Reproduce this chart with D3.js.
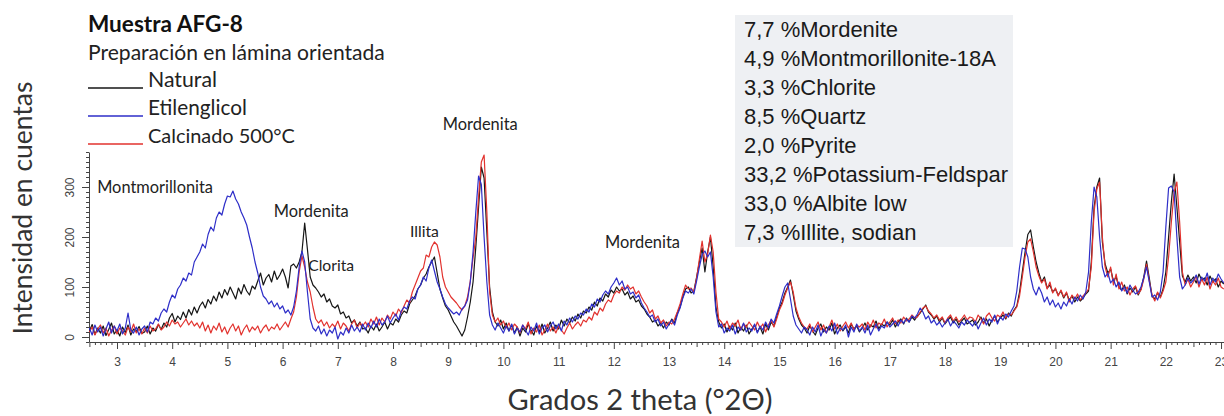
<!DOCTYPE html>
<html>
<head>
<meta charset="utf-8">
<script src="https://cdn.jsdelivr.net/npm/d3@7"></script>
<style>
  body { margin: 0; background: #fff; }
  svg { display: block; }
</style>
</head>
<body>
<div id="chart"></div>
<script>
// sampling of the patterns: first angle and step, in degrees 2 theta
const twoThetaStart = 2.5;
const twoThetaStep = 0.05;

// counts, one row per degree (n.5 .. n+1.45)
const natural = [
  12, 25, 5, 18, 8, 22, 3, 15, 28, 6, 14, 2, 20, 9, 24, 4, 16, 11, 21, 7,
  10, 22, 6, 18, 12, 25, 15, 28, 20, 38, 47, 30, 42, 35, 50, 38, 55, 44, 60, 48,
  62, 70, 58, 75, 66, 82, 72, 90, 78, 95, 84, 100, 88, 76, 98, 86, 105, 92, 84, 102,
  96, 112, 128, 104, 118, 125, 110, 132, 115, 124, 136, 120, 98, 142, 146, 138, 150, 170, 228, 175,
  120, 104, 98, 90, 80, 86, 70, 76, 62, 58, 64, 46, 50, 38, 42, 28, 34, 22, 30, 16,
  18, 8, 22, 14, 26, 12, 20, 30, 16, 28, 24, 36, 30, 44, 52, 48, 66, 74, 82, 96,
  104, 118, 126, 140, 150, 160, 128, 96, 78, 62, 54, 42, 30, 22, 12, 2, 14, 40, 70, 110,
  180, 260, 340, 318, 210, 100, 50, 30, 22, 34, 16, 28, 12, 24, 8, 20, 2, 18, 10, 26,
  14, 4, 22, 10, 26, 8, 18, 30, 12, 24, 16, 34, 22, 36, 28, 40, 32, 46, 38, 52,
  48, 60, 54, 70, 62, 78, 72, 86, 80, 94, 88, 100, 92, 96, 84, 90, 76, 82, 70, 74,
  62, 56, 46, 40, 30, 34, 22, 28, 18, 30, 24, 36, 28, 48, 60, 80, 96, 100, 88, 92,
  120, 150, 178, 130, 170, 200, 140, 60, 30, 18, 26, 10, 22, 14, 28, 8, 20, 12, 24, 6,
  16, 24, 10, 20, 6, 26, 14, 30, 22, 40, 58, 70, 88, 100, 114, 84, 52, 36, 24, 18,
  8, 22, 12, 4, 18, 26, 10, 20, 14, 28, 6, 18, 24, 12, 20, 8, 26, 16, 22, 10,
  18, 28, 14, 24, 20, 32, 16, 26, 22, 30, 24, 34, 20, 30, 36, 26, 38, 30, 40, 34,
  42, 48, 56, 64, 50, 44, 36, 42, 30, 38, 26, 34, 40, 28, 36, 24, 32, 38, 26, 30,
  34, 24, 30, 40, 28, 36, 22, 34, 42, 30, 38, 44, 36, 48, 42, 54, 62, 90, 130, 170,
  205, 214, 180, 150, 128, 110, 120, 98, 104, 90, 96, 84, 92, 78, 88, 74, 82, 70, 80, 72,
  78, 86, 92, 150, 260, 300, 318, 190, 146, 128, 136, 112, 120, 100, 94, 104, 86, 98, 90, 100,
  84, 96, 120, 152, 118, 82, 76, 88, 80, 96, 130, 200, 270, 326, 260, 190, 122, 110, 124, 112,
  120, 108, 126, 114, 118, 104, 122, 110, 116, 100, 112, 106
];

const etilenglicol = [
  18, 4, 24, 10, 20, 2, 16, 30, 8, 22, 12, 26, 6, 18, 48, 14, 8, 20, 4, 16,
  22, 10, 30, 26, 38, 32, 48, 56, 50, 70, 84, 78, 96, 104, 118, 112, 128, 124, 150, 160,
  170, 186, 178, 205, 220, 212, 238, 250, 244, 266, 282, 280, 292, 276, 266, 250, 238, 224, 200, 178,
  150, 128, 100, 82, 76, 66, 72, 60, 68, 56, 62, 48, 54, 44, 60, 92, 140, 172, 150, 90,
  36, 18, 12, 22, 6, 16, 2, 14, 8, 20, -4, 10, 4, 18, 8, 24, 12, 20, 10, 26,
  14, 28, 18, 32, 20, 36, 24, 30, 42, 28, 38, 46, 34, 52, 60, 56, 72, 80, 76, 96,
  104, 120, 112, 138, 154, 132, 110, 96, 80, 66, 58, 52, 46, 50, 44, 56, 62, 74, 110, 170,
  250, 322, 305, 200, 110, 44, 24, 14, 28, 18, 8, 22, 12, 26, 6, 18, 10, 24, 14, 4,
  20, 12, 28, 6, 18, 24, 10, 22, 30, 16, 26, 12, 32, 24, 38, 30, 42, 36, 48, 44,
  56, 50, 66, 60, 76, 70, 84, 92, 86, 100, 108, 118, 104, 112, 96, 100, 86, 90, 78, 84,
  68, 58, 50, 40, 44, 30, 36, 22, 30, 16, 26, 34, 24, 44, 58, 78, 92, 88, 96, 86,
  112, 140, 165, 172, 160, 170, 120, 50, 20, 26, 8, 18, 12, 24, 6, 20, 14, 28, 10, 18,
  12, 26, 8, 22, 14, 30, 18, 36, 28, 46, 62, 82, 100, 108, 76, 42, 24, 16, 8, 20,
  14, 4, 20, 10, 24, 2, 16, 8, 22, 12, 28, 6, 18, 14, 24, 0, 20, 10, 26, 12,
  20, 8, 24, 4, 16, 26, 12, 22, 18, 30, 20, 26, 32, 22, 34, 28, 36, 30, 42, 38,
  46, 58, 50, 36, 42, 28, 34, 24, 30, 20, 28, 36, 22, 32, 26, 18, 30, 24, 34, 28,
  22, 32, 16, 28, 38, 24, 36, 30, 44, 26, 40, 34, 46, 40, 52, 62, 92, 140, 178, 176,
  160, 120, 96, 84, 100, 88, 70, 80, 64, 74, 60, 68, 56, 70, 62, 76, 66, 80, 72, 84,
  76, 90, 130, 230, 300, 280, 200, 140, 120, 128, 108, 116, 100, 110, 92, 100, 88, 104, 94, 86,
  90, 100, 118, 140, 110, 80, 84, 74, 90, 130, 220, 298, 302, 290, 200, 120, 96, 104, 118, 108,
  114, 124, 106, 120, 112, 128, 104, 118, 110, 126, 116, 108
];

const calcinado = [
  10, 20, 4, 16, 24, 8, 18, 2, 14, 22, 6, 18, 12, 4, 20, 10, 26, 8, 16, 6,
  18, 8, 22, 12, 16, 26, 14, 20, 30, 22, 34, 26, 30, 20, 28, 36, 24, 32, 22, 28,
  18, 30, 12, 24, 8, 22, 14, 28, 10, 20, 6, 18, 26, 12, 22, 4, 16, 24, 10, 20,
  14, 22, 8, 18, 24, 12, 20, 16, 26, 14, 22, 30, 20, 36, 50, 80, 130, 162, 140, 110,
  90, 60, 36, 28, 34, 22, 30, 18, 26, 20, 32, 16, 28, 22, 12, 26, 34, 18, 28, 22,
  30, 20, 36, 26, 40, 24, 38, 30, 44, 36, 50, 42, 56, 48, 62, 74, 68, 90, 104, 118,
  132, 138, 164, 160, 180, 190, 184, 160, 120, 100, 90, 80, 74, 68, 60, 54, 62, 80, 112, 158,
  200, 280, 350, 364, 250, 90, 44, 30, 38, 24, 32, 18, 28, 14, 26, 20, 8, 24, 16, 30,
  6, 18, 10, 24, 4, 14, 26, 12, 20, 8, 22, 14, 6, 18, 28, 16, 24, 30, 22, 34,
  30, 40, 34, 50, 44, 58, 52, 66, 74, 70, 84, 92, 88, 100, 94, 104, 96, 100, 86, 92,
  80, 70, 62, 48, 54, 36, 42, 28, 34, 22, 30, 26, 36, 50, 66, 86, 104, 96, 98, 90,
  118, 156, 192, 150, 166, 204, 170, 90, 36, 30, 20, 32, 16, 28, 22, 34, 14, 26, 20, 30,
  22, 14, 30, 18, 26, 10, 24, 34, 20, 36, 54, 66, 84, 98, 110, 90, 58, 40, 28, 20,
  16, 26, 10, 20, 30, 14, 24, 8, 20, 34, 16, 26, 12, 22, 30, 18, 28, 14, 24, 20,
  26, 14, 30, 20, 34, 18, 28, 24, 36, 20, 30, 38, 26, 34, 28, 40, 32, 36, 44, 38,
  40, 50, 58, 62, 52, 46, 38, 44, 34, 40, 28, 38, 44, 32, 40, 30, 36, 44, 34, 40,
  38, 30, 44, 36, 26, 42, 48, 38, 32, 44, 40, 50, 38, 46, 44, 52, 60, 82, 120, 160,
  190, 196, 170, 140, 122, 108, 116, 96, 110, 88, 98, 82, 94, 80, 90, 70, 84, 76, 86, 74,
  82, 88, 96, 140, 250, 296, 310, 200, 140, 120, 140, 104, 126, 96, 110, 92, 100, 84, 96, 102,
  86, 94, 116, 146, 112, 84, 72, 90, 78, 92, 110, 160, 230, 290, 310, 230, 130, 104, 116, 100,
  110, 122, 100, 116, 104, 120, 96, 112, 104, 118, 100, 96
];

const seriesNames = ["Natural", "Etilenglicol", "Calcinado 500°C"];
const xTicks = [3, 4, 5, 6, 7, 8, 9, 10, 11, 12, 13, 14, 15, 16, 17, 18, 19, 20, 21, 22, 23];
const yTicks = [0, 100, 200, 300];

// semiquantitative result shown in the grey box
const phasePct = ["7,7", "4,9", "3,3", "8,5", "2,0", "33,2", "33,0", "7,3"];
const phaseNames = ["Mordenite", "Montmorillonite-18A", "Chlorite", "Quartz", "Pyrite",
                    "Potassium-Feldspar", "Albite low", "Illite, sodian"];

// peak names written on the pattern
const peakNames = ["Montmorillonita", "Mordenita", "Clorita", "Illita", "Mordenita", "Mordenita"];

const W = 1224, H = 416;
const calibri = "Lato, 'Open Sans', sans-serif";
const arial = "'Liberation Sans', Arial, sans-serif";

const svg = d3.select("#chart").append("svg")
    .attr("width", W).attr("height", H);

const x = d3.scaleLinear().domain([2.5, 23.05]).range([89.4, 1223.8]);
const y = d3.scaleLinear().domain([-10, 370]).range([342, 152]);

// scale font size so the text gets a given width (Calibri is not installed)
function fitText(sel, w) {
    sel.each(function () {
        var el = d3.select(this);
        var fs = parseFloat(el.style("font-size"));
        var cur = this.getComputedTextLength();
        if (cur > 0) el.style("font-size", (fs * w / cur).toFixed(2) + "px");
    });
}

// grey box with the phases
svg.append("rect")
    .attr("x", 735).attr("y", 15).attr("width", 278).attr("height", 232)
    .attr("fill", "#eef0f3");

svg.append("g").selectAll("text")
    .data(phaseNames)
    .join("text")
    .attr("x", 744)
    .attr("y", (d, i) => 37 + i * 29)
    .style("font-family", arial)
    .style("font-size", "22px")
    .attr("fill", "#1a1a1a")
    .text((d, i) => phasePct[i] + " %" + d);

// x axis: major, half and tenth ticks
const gx = svg.append("g").attr("transform", "translate(0,342)");
gx.call(d3.axisBottom(x).tickValues(xTicks).tickSize(7).tickSizeOuter(0).tickPadding(8)
        .tickFormat(d3.format("d")));
gx.append("g").call(d3.axisBottom(x)
        .tickValues(d3.range(25, 231, 10).map(v => v / 10)).tickSize(5).tickFormat(""))
    .select(".domain").remove();
gx.append("g").call(d3.axisBottom(x)
        .tickValues(d3.range(25, 231).filter(v => v % 5 != 0).map(v => v / 10))
        .tickSize(3).tickFormat(""))
    .select(".domain").remove();

// y axis, labels turned
const gy = svg.append("g").attr("transform", "translate(89,0)");
gy.call(d3.axisLeft(y).tickValues(yTicks).tickSize(7).tickSizeOuter(0));
gy.append("g").call(d3.axisLeft(y)
        .tickValues(d3.range(-10, 371, 10).filter(v => v % 100 != 0))
        .tickSize(3).tickFormat(""))
    .select(".domain").remove();
gy.selectAll(".tick text")
    .attr("transform", "rotate(-90)")
    .attr("x", 0).attr("y", -15).attr("dy", 0)
    .attr("text-anchor", "middle");

svg.selectAll(".domain, .tick line").attr("stroke", "#444");
svg.selectAll(".tick text")
    .style("font-family", arial).style("font-size", "12px").attr("fill", "#444");

// the three patterns
const line = d3.line()
    .x((d, i) => x(twoThetaStart + i * twoThetaStep))
    .y(d => y(d));

const series = [
    {vals: natural, color: "#161616"},
    {vals: calcinado, color: "#e2322e"},
    {vals: etilenglicol, color: "#2e2ec8"}
];
svg.append("g").selectAll("path")
    .data(series)
    .join("path")
    .attr("d", d => line(d.vals))
    .attr("fill", "none")
    .attr("stroke", d => d.color)
    .attr("stroke-width", 1.2)
    .attr("stroke-linejoin", "round");

// peak labels (2 theta of centre, count of baseline)
const peakAt = [[3.69, 288], [6.52, 240], [6.88, 132], [8.57, 200], [12.52, 178], [9.58, 414]];
const peakW = [116, 75, 46, 29, 75, 75];
svg.append("g").selectAll("text")
    .data(peakNames)
    .join("text")
    .attr("x", (d, i) => x(peakAt[i][0]))
    .attr("y", (d, i) => y(peakAt[i][1]))
    .attr("text-anchor", "middle")
    .style("font-family", calibri)
    .style("font-size", "14px")
    .attr("fill", "#222")
    .text(d => d)
    .each(function (d, i) { fitText(d3.select(this), peakW[i]); });

// title and legend
svg.append("text")
    .attr("x", 88).attr("y", 32)
    .style("font-family", calibri).style("font-weight", "bold").style("font-size", "20px")
    .attr("fill", "#111")
    .text("Muestra AFG-8")
    .call(fitText, 155);

svg.append("text")
    .attr("x", 88).attr("y", 60)
    .style("font-family", calibri).style("font-size", "19px")
    .attr("fill", "#222")
    .text("Preparación en lámina orientada")
    .call(fitText, 297);

const legW = [69, 99, 147];
const leg = svg.append("g").selectAll("g")
    .data(series.map((s, i) => ({name: seriesNames[i], color: [ "#161616", "#2e2ec8", "#e2322e"][i]})))
    .join("g")
    .attr("transform", (d, i) => "translate(88," + (88 + i * 28) + ")");
leg.append("line")
    .attr("x1", 0).attr("x2", 55)
    .attr("stroke", d => d.color).attr("stroke-width", 1.6);
leg.append("text")
    .attr("x", 60).attr("y", -1)
    .style("font-family", calibri).style("font-size", "19px")
    .attr("fill", "#222")
    .text(d => d.name)
    .each(function (d, i) { fitText(d3.select(this), legW[i]); });

// axis titles
svg.append("text")
    .attr("transform", "translate(32,208) rotate(-90)")
    .attr("text-anchor", "middle")
    .style("font-family", calibri).style("font-size", "22px")
    .attr("fill", "#333")
    .text("Intensidad en cuentas")
    .call(fitText, 253);

svg.append("text")
    .attr("x", 640).attr("y", 410)
    .attr("text-anchor", "middle")
    .style("font-family", calibri).style("font-size", "24px")
    .attr("fill", "#333")
    .text("Grados 2 theta (°2Θ)")
    .call(fitText, 265);
</script>
</body>
</html>
